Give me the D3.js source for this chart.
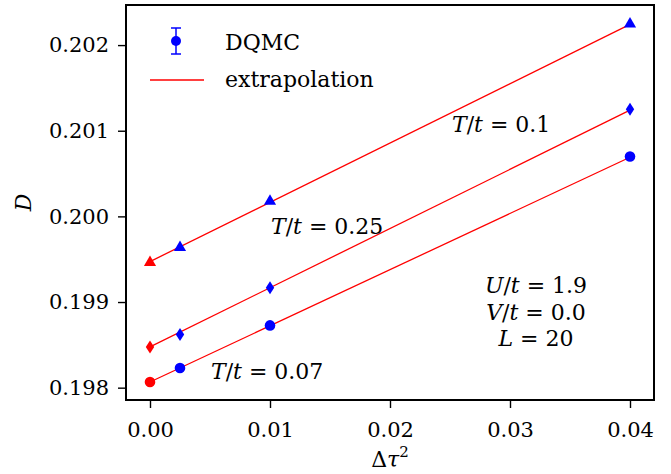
<!DOCTYPE html>
<html>
<head>
<meta charset="utf-8">
<title>D vs dtau^2</title>
<style>
  body { margin: 0; background: #fff; }
  text { font-family: "DejaVu Serif", serif; fill: #000; }
  .axis path, .axis line { stroke: #000; }
  .axis line { stroke-width: 1.4; }
  .axis text { font-size: 21px; font-family: "DejaVu Serif", serif; }
</style>
</head>
<body>
<script src="https://cdn.jsdelivr.net/npm/d3@7"></script>
<script>
// data
var dtau2 = [0.0025, 0.01, 0.04];
var dT010 = [0.199648, 0.200187, 0.202258];   // T/t = 0.1  (triangles)
var dT025 = [0.198621, 0.199167, 0.201250];   // T/t = 0.25 (diamonds)
var dT007 = [0.198230, 0.198727, 0.200699];   // T/t = 0.07 (circles)
var err = [0.00002, 0.00002, 0.00002];
// extrapolated values (dtau^2 = 0) and fit line end (dtau^2 = 0.04)
var fit0 = [0.199472, 0.198476, 0.198066];
var fitEnd = [0.202242, 0.201240, 0.200690];
var xTicks = [0.00, 0.01, 0.02, 0.03, 0.04];
var yTicks = [0.198, 0.199, 0.200, 0.201, 0.202];

var W = 671, H = 474;
var margin = {top: 5, right: 17, bottom: 74, left: 126};
var width = W - margin.left - margin.right,
    height = H - margin.top - margin.bottom;

var svg = d3.select("body").append("svg")
  .attr("width", W).attr("height", H);

var chart = svg.append("g")
  .attr("transform", "translate(" + margin.left + "," + margin.top + ")");

var x = d3.scaleLinear().domain([-0.002, 0.042]).range([0, width]);
var y = d3.scaleLinear().domain([0.197856, 0.202468]).range([height, 0]);

// axes
chart.append("g")
  .attr("class", "axis")
  .attr("transform", "translate(0," + height + ")")
  .call(d3.axisBottom(x).tickValues(xTicks).tickFormat(d3.format(".2f")).tickSize(8).tickPadding(14))
  .call(function(g){ g.select(".domain").remove(); });

chart.append("g")
  .attr("class", "axis")
  .call(d3.axisLeft(y).tickValues(yTicks).tickFormat(d3.format(".3f")).tickSize(8).tickPadding(9))
  .call(function(g){ g.select(".domain").remove(); });

var series = [
  {vals: dT010, shape: "tri", f0: fit0[0], f1: fitEnd[0]},
  {vals: dT025, shape: "dia", f0: fit0[1], f1: fitEnd[1]},
  {vals: dT007, shape: "cir", f0: fit0[2], f1: fitEnd[2]}
];

function markerPath(shape) {
  if (shape == "tri") return d3.symbol().type(d3.symbolTriangle).size(64)();
  if (shape == "cir") return d3.symbol().type(d3.symbolCircle).size(88)();
  return "M0,-6.5L4.2,0L0,6.5L-4.2,0Z";
}

// extrapolation lines
series.forEach(function(s){
  chart.append("line")
    .attr("x1", x(0)).attr("y1", y(s.f0))
    .attr("x2", x(0.04)).attr("y2", y(s.f1))
    .attr("stroke", "red").attr("stroke-width", 1.3);
});

// DQMC points with error bars
series.forEach(function(s){
  var pts = dtau2.map(function(d, i){ return {x: d, y: s.vals[i], e: err[i]}; });
  var g = chart.append("g");
  g.selectAll(".eb").data(pts).enter().append("line")
    .attr("x1", function(d){ return x(d.x); }).attr("x2", function(d){ return x(d.x); })
    .attr("y1", function(d){ return y(d.y - d.e); }).attr("y2", function(d){ return y(d.y + d.e); })
    .attr("stroke", "blue").attr("stroke-width", 1.5);
  g.selectAll(".m").data(pts).enter().append("path")
    .attr("d", markerPath(s.shape))
    .attr("transform", function(d){ return "translate(" + x(d.x) + "," + (y(d.y) + (s.shape == "tri" ? 1 : 0)) + ")"; })
    .attr("fill", "blue");
  chart.append("path")
    .attr("d", markerPath(s.shape))
    .attr("transform", "translate(" + x(0) + "," + (y(s.f0) + (s.shape == "tri" ? 1 : 0)) + ")")
    .attr("fill", "red");
});

// frame
chart.append("rect")
  .attr("width", width).attr("height", height)
  .attr("fill", "none").attr("stroke", "#000").attr("stroke-width", 2);

// math labels
function mathText(xp, yp, parts, anchor) {
  var t = chart.append("text")
    .attr("x", xp).attr("y", yp)
    .attr("text-anchor", anchor || "start")
    .style("font-size", "22px");
  parts.forEach(function(p){
    t.append("tspan").text(p[0]).style("font-style", p[1] ? "italic" : "normal");
  });
  return t;
}

mathText(452 - margin.left, 132 - margin.top, [["T",1],["/",0],["t",1],[" = 0.1",0]]);
mathText(271 - margin.left, 234 - margin.top, [["T",1],["/",0],["t",1],[" = 0.25",0]]);
mathText(211 - margin.left, 379 - margin.top, [["T",1],["/",0],["t",1],[" = 0.07",0]]);
mathText(536 - margin.left, 293 - margin.top, [["U",1],["/",0],["t",1],[" = 1.9",0]], "middle");
mathText(536 - margin.left, 320 - margin.top, [["V",1],["/",0],["t",1],[" = 0.0",0]], "middle");
mathText(536 - margin.left, 346 - margin.top, [["L",1],[" = 20",0]], "middle");

// legend
var leg = chart.append("g");
var lx = 176 - margin.left, ly = 41 - margin.top;
leg.append("line").attr("x1", lx).attr("x2", lx).attr("y1", ly - 13).attr("y2", ly + 13)
  .attr("stroke", "blue").attr("stroke-width", 1.5);
[-13, 13].forEach(function(o){
  leg.append("line").attr("x1", lx - 5).attr("x2", lx + 5).attr("y1", ly + o).attr("y2", ly + o)
    .attr("stroke", "blue").attr("stroke-width", 1.5);
});
leg.append("circle").attr("cx", lx).attr("cy", ly).attr("r", 5).attr("fill", "blue");
leg.append("text").attr("x", 225 - margin.left).attr("y", 50 - margin.top)
  .style("font-size", "22px").text("DQMC");
leg.append("line").attr("x1", 150 - margin.left).attr("x2", 204 - margin.left)
  .attr("y1", 80 - margin.top).attr("y2", 80 - margin.top)
  .attr("stroke", "red").attr("stroke-width", 1.3);
leg.append("text").attr("x", 225 - margin.left).attr("y", 87 - margin.top)
  .style("font-size", "22px").text("extrapolation");

// axis titles
var xl = svg.append("text")
  .attr("x", margin.left + x(0.02)).attr("y", 467)
  .attr("text-anchor", "middle").style("font-size", "22px");
xl.append("tspan").text("\u0394");
xl.append("tspan").text("\u03c4").style("font-style", "italic");
xl.append("tspan").text("2").attr("dy", -10).style("font-size", "15px");

svg.append("text")
  .attr("transform", "translate(31," + (margin.top + height / 2) + ") rotate(-90)")
  .attr("text-anchor", "middle")
  .style("font-size", "22px").style("font-style", "italic")
  .text("D");
</script>
</body>
</html>
